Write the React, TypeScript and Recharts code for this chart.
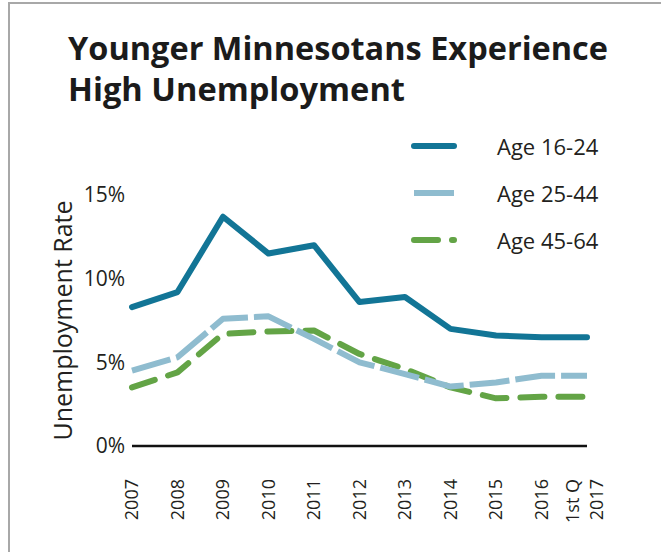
import { Legend, Line, LineChart, XAxis, YAxis } from "recharts";

const YEARS = [
  "2007",
  "2008",
  "2009",
  "2010",
  "2011",
  "2012",
  "2013",
  "2014",
  "2015",
  "2016",
  "1st Q\n2017",
];

const AGE_16_24 = [8.3, 9.2, 13.7, 11.5, 12.0, 8.6, 8.9, 7.0, 6.6, 6.5, 6.5];
const AGE_25_44 = [4.5, 5.3, 7.6, 7.75, 6.4, 5.0, 4.3, 3.55, 3.8, 4.2, 4.2];
const AGE_45_64 = [3.5, 4.4, 6.7, 6.85, 6.9, 5.5, 4.6, 3.5, 2.85, 2.95, 2.95];

const Y_TICKS = [0, 5, 10, 15];

const TEXT = "#231f20";
const FONT = "'Open Sans', sans-serif";

const SERIES = [
  { key: "age1624", name: "Age 16-24", color: "#127596", dash: undefined, cap: "round" },
  { key: "age2544", name: "Age 25-44", color: "#8fbccf", dash: "40 6", cap: "butt" },
  { key: "age4564", name: "Age 45-64", color: "#63a446", dash: "24 14", cap: "round" },
];

const chartData = YEARS.map((year, i) => ({
  year,
  age1624: AGE_16_24[i],
  age2544: AGE_25_44[i],
  age4564: AGE_45_64[i],
}));

function YearTick({ x, y, payload }: any) {
  const lines = String(payload.value).split("\n");
  const top = y + 25;
  return (
    <text
      x={x}
      y={top}
      transform={`rotate(-90 ${x} ${top})`}
      textAnchor="end"
      fontSize={18}
      fontFamily={FONT}
      fill={TEXT}
    >
      {lines.map((line, i) => (
        <tspan key={line} x={x} dy={i === 0 ? (lines.length - 1) * -14 + 6 : 24}>
          {line}
        </tspan>
      ))}
    </text>
  );
}

function AxisTitle({ viewBox }: any) {
  const cx = viewBox.x + 62;
  const cy = viewBox.y + viewBox.height / 2;
  return (
    <text
      x={cx}
      y={cy}
      transform={`rotate(-90 ${cx} ${cy})`}
      textAnchor="middle"
      dominantBaseline="central"
      fontSize={25}
      fontFamily={FONT}
      fill={TEXT}
    >
      Unemployment Rate
    </text>
  );
}

function renderLegend() {
  // legend order follows the SERIES list
  return (
    <div style={{ fontFamily: FONT }}>
      {SERIES.map((s) => (
        <div key={s.key} style={{ display: "flex", alignItems: "center", height: 47 }}>
          <svg width={86} height={12} style={{ flex: "none" }}>
            <line
              x1={3}
              y1={6}
              x2={43}
              y2={6}
              stroke={s.color}
              strokeWidth={6}
              strokeDasharray={s.key === "age4564" ? "24 14" : undefined}
              strokeLinecap={s.key === "age2544" ? "butt" : "round"}
            />
          </svg>
          <span style={{ fontSize: 22, color: TEXT, whiteSpace: "nowrap" }}>{s.name}</span>
        </div>
      ))}
    </div>
  );
}

export default function App() {
  return (
    <div
      style={{
        position: "absolute",
        left: 0,
        top: 0,
        width: 661,
        height: 552,
        background: "#fff",
        overflow: "hidden",
      }}
    >
      <div
        style={{
          position: "absolute",
          left: 8,
          top: 2,
          width: 700,
          height: 600,
          borderLeft: "2px solid #a8a8a8",
          borderTop: "2px solid #a8a8a8",
        }}
      />
      <svg
        width={661}
        height={110}
        style={{ position: "absolute", left: 0, top: 0 }}
      >
        <text
          x={68}
          y={60}
          fontSize={33}
          fontWeight={700}
          fontFamily={FONT}
          fill="#1b1b1b"
          textLength={540}
          lengthAdjust="spacingAndGlyphs"
        >
          Younger Minnesotans Experience
        </text>
        <text
          x={68}
          y={101}
          fontSize={33}
          fontWeight={700}
          fontFamily={FONT}
          fill="#1b1b1b"
          textLength={337}
          lengthAdjust="spacingAndGlyphs"
        >
          High Unemployment
        </text>
      </svg>
      <div style={{ position: "absolute", left: 0, top: 0 }}>
        <LineChart
          width={661}
          height={552}
          data={chartData}
          margin={{ top: 195, right: 74, bottom: 45, left: 0 }}
        >
          <XAxis
            dataKey="year"
            interval={0}
            height={61}
            tickLine={false}
            axisLine={{ stroke: "#111", strokeWidth: 2.5 }}
            tick={<YearTick />}
          />
          <YAxis
            width={132}
            domain={[0, 15]}
            ticks={Y_TICKS}
            tickFormatter={(v: number) => `${v}%`}
            axisLine={false}
            tickLine={false}
            tickSize={6}
            tickMargin={1}
            tick={{ fontSize: 21, fill: TEXT, fontFamily: FONT }}
            label={<AxisTitle />}
          />
          <Legend
            layout="vertical"
            align="center"
            verticalAlign="middle"
            content={renderLegend}
            wrapperStyle={{ left: 411, top: 122, width: 240 }}
          />
          {[...SERIES].reverse().map((s) => (
            <Line
              key={s.key}
              type="linear"
              dataKey={s.key}
              name={s.name}
              stroke={s.color}
              strokeWidth={6}
              strokeDasharray={s.dash}
              strokeLinecap={s.cap as any}
              strokeLinejoin="round"
              dot={false}
              activeDot={false}
              isAnimationActive={false}
            />
          ))}
        </LineChart>
      </div>
    </div>
  );
}
